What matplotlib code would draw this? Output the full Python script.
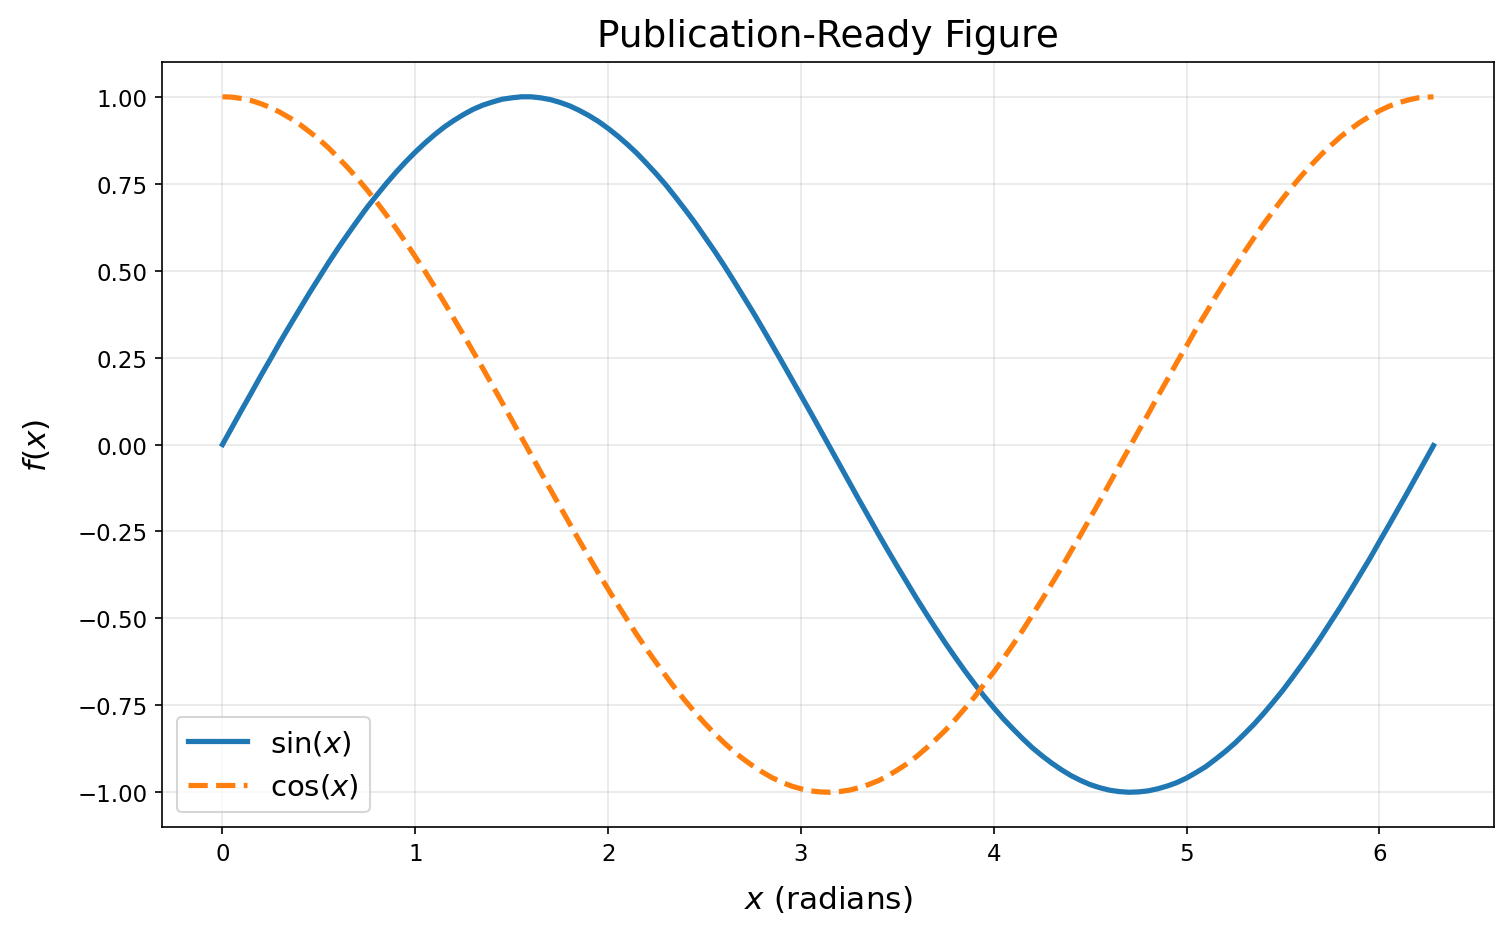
import matplotlib
matplotlib.use("Agg")
import matplotlib.pyplot as plt

x_values = [0.00, 0.05, 0.10, 0.15, 0.20, 0.25, 0.30, 0.35, 0.40, 0.45,
            0.50, 0.55, 0.60, 0.65, 0.70, 0.75, 0.80, 0.85, 0.90, 0.95,
            1.00, 1.05, 1.10, 1.15, 1.20, 1.25, 1.30, 1.35, 1.40, 1.45,
            1.50, 1.55, 1.60, 1.65, 1.70, 1.75, 1.80, 1.85, 1.90, 1.95,
            2.00, 2.05, 2.10, 2.15, 2.20, 2.25, 2.30, 2.35, 2.40, 2.45,
            2.50, 2.55, 2.60, 2.65, 2.70, 2.75, 2.80, 2.85, 2.90, 2.95,
            3.00, 3.05, 3.10, 3.15, 3.20, 3.25, 3.30, 3.35, 3.40, 3.45,
            3.50, 3.55, 3.60, 3.65, 3.70, 3.75, 3.80, 3.85, 3.90, 3.95,
            4.00, 4.05, 4.10, 4.15, 4.20, 4.25, 4.30, 4.35, 4.40, 4.45,
            4.50, 4.55, 4.60, 4.65, 4.70, 4.75, 4.80, 4.85, 4.90, 4.95,
            5.00, 5.05, 5.10, 5.15, 5.20, 5.25, 5.30, 5.35, 5.40, 5.45,
            5.50, 5.55, 5.60, 5.65, 5.70, 5.75, 5.80, 5.85, 5.90, 5.95,
            6.00, 6.05, 6.10, 6.15, 6.20, 6.25, 6.28]

sin_values = [0.000, 0.050, 0.100, 0.149, 0.199, 0.247, 0.296, 0.343, 0.389, 0.435,
              0.479, 0.523, 0.565, 0.605, 0.644, 0.682, 0.717, 0.751, 0.783, 0.813,
              0.841, 0.867, 0.891, 0.913, 0.932, 0.949, 0.964, 0.976, 0.985, 0.993,
              0.997, 1.000, 1.000, 0.997, 0.992, 0.984, 0.974, 0.961, 0.946, 0.929,
              0.909, 0.887, 0.863, 0.837, 0.808, 0.778, 0.746, 0.711, 0.675, 0.638,
              0.598, 0.558, 0.516, 0.472, 0.427, 0.382, 0.335, 0.287, 0.239, 0.190,
              0.141, 0.092, 0.042, -0.008, -0.058, -0.108, -0.158, -0.207, -0.256, -0.304,
              -0.351, -0.397, -0.443, -0.487, -0.530, -0.572, -0.612, -0.651, -0.688, -0.724,
              -0.757, -0.789, -0.818, -0.846, -0.872, -0.895, -0.916, -0.935, -0.952, -0.966,
              -0.978, -0.987, -0.994, -0.998, -1.000, -0.999, -0.996, -0.990, -0.982, -0.972,
              -0.959, -0.943, -0.926, -0.905, -0.883, -0.859, -0.832, -0.804, -0.773, -0.740,
              -0.706, -0.669, -0.631, -0.592, -0.551, -0.508, -0.465, -0.420, -0.374, -0.328,
              -0.279, -0.231, -0.182, -0.133, -0.083, -0.033, -0.003]

cos_values = [1.000, 0.999, 0.995, 0.989, 0.980, 0.969, 0.955, 0.939, 0.921, 0.900,
              0.878, 0.853, 0.825, 0.796, 0.765, 0.732, 0.697, 0.660, 0.622, 0.582,
              0.540, 0.498, 0.454, 0.409, 0.362, 0.315, 0.267, 0.219, 0.170, 0.121,
              0.071, 0.021, -0.029, -0.079, -0.129, -0.178, -0.227, -0.276, -0.323, -0.370,
              -0.416, -0.461, -0.505, -0.548, -0.589, -0.628, -0.666, -0.703, -0.737, -0.770,
              -0.801, -0.830, -0.857, -0.882, -0.904, -0.924, -0.942, -0.958, -0.971, -0.982,
              -0.990, -0.996, -0.999, -1.000, -0.998, -0.994, -0.987, -0.978, -0.967, -0.953,
              -0.936, -0.918, -0.897, -0.873, -0.848, -0.821, -0.791, -0.759, -0.726, -0.689,
              -0.654, -0.615, -0.575, -0.534, -0.490, -0.446, -0.401, -0.355, -0.307, -0.260,
              -0.211, -0.162, -0.112, -0.062, -0.012, 0.038, 0.087, 0.138, 0.187, 0.237,
              0.284, 0.333, 0.378, 0.425, 0.469, 0.512, 0.554, 0.595, 0.635, 0.672,
              0.709, 0.743, 0.776, 0.806, 0.835, 0.861, 0.886, 0.907, 0.927, 0.944,
              0.960, 0.973, 0.983, 0.991, 0.997, 0.999, 1.000]

series_labels = [r"sin($x$)", r"cos($x$)"]

fig = plt.figure(figsize=(10.08, 6.2333), dpi=150)
ax = fig.add_axes([0.1071, 0.1144, 0.8810, 0.8182])

ax.plot(x_values, sin_values, color="#1f77b4", linewidth=2.5, linestyle="-",
        label=series_labels[0])
ax.plot(x_values, cos_values, color="#ff7f0e", linewidth=2.5, linestyle="--",
        label=series_labels[1])

ax.set_title("Publication-Ready Figure", fontsize=18, pad=7.5)
ax.set_xlabel(r"$x$ (radians)", fontsize=15, labelpad=9)
ax.set_ylabel(r"$f(x)$", fontsize=15, labelpad=12)
ax.grid(True, alpha=0.3)
ax.tick_params(labelsize=11)
ax.legend(loc="lower left", fontsize=14)

fig.savefig("out.png", dpi=150)
